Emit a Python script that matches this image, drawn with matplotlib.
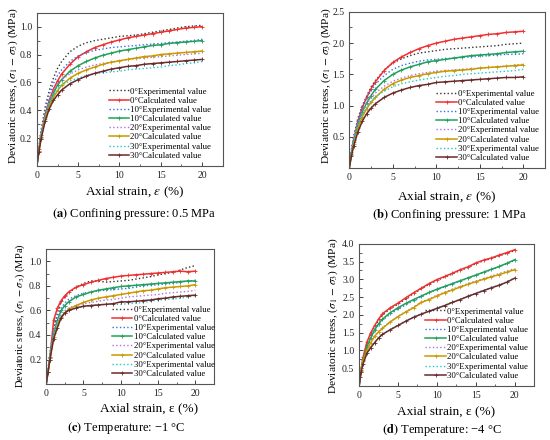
import matplotlib
matplotlib.use('Agg')
import matplotlib.pyplot as plt
import numpy as np
from matplotlib.ticker import AutoMinorLocator, MultipleLocator

plt.rcParams['font.family'] = ['Liberation Serif', 'DejaVu Serif']
plt.rcParams['mathtext.fontset'] = 'stix'

# ---- data ----
strain = [0, 0.25, 0.5, 1, 1.5, 2, 2.5, 3, 4, 5, 6, 7, 8, 9, 10,
          11, 12, 13, 14, 15, 16, 17, 18, 19, 20]
angles = ['0°', '10°', '20°', '30°']

# (a) confining pressure 0.5 MPa
a_exp = [
    [0, 0.13, 0.25, 0.42, 0.54, 0.63, 0.70, 0.75, 0.82, 0.86, 0.885, 0.90, 0.91, 0.92, 0.93, 0.935, 0.94, 0.95, 0.96, 0.97, 0.98, 0.99, 1.0, 1.005, 1.01],
    [0, 0.13, 0.24, 0.40, 0.51, 0.59, 0.65, 0.69, 0.75, 0.79, 0.815, 0.83, 0.84, 0.85, 0.855, 0.86, 0.865, 0.87, 0.875, 0.88, 0.885, 0.89, 0.895, 0.90, 0.91],
    [0, 0.12, 0.22, 0.37, 0.47, 0.54, 0.59, 0.62, 0.66, 0.69, 0.71, 0.725, 0.735, 0.745, 0.755, 0.765, 0.77, 0.775, 0.78, 0.785, 0.79, 0.795, 0.80, 0.805, 0.81],
    [0, 0.12, 0.22, 0.36, 0.45, 0.51, 0.55, 0.58, 0.61, 0.63, 0.65, 0.66, 0.67, 0.675, 0.68, 0.69, 0.695, 0.70, 0.705, 0.71, 0.72, 0.725, 0.735, 0.74, 0.75],
]
a_calc = [
    [0, 0.12, 0.22, 0.37, 0.47, 0.55, 0.61, 0.66, 0.73, 0.785, 0.82, 0.85, 0.87, 0.89, 0.905, 0.92, 0.93, 0.94, 0.95, 0.96, 0.97, 0.98, 0.99, 0.995, 1.0],
    [0, 0.11, 0.21, 0.35, 0.45, 0.52, 0.58, 0.62, 0.68, 0.72, 0.75, 0.775, 0.795, 0.81, 0.825, 0.835, 0.845, 0.855, 0.865, 0.87, 0.88, 0.885, 0.89, 0.895, 0.90],
    [0, 0.11, 0.20, 0.34, 0.43, 0.49, 0.54, 0.58, 0.63, 0.665, 0.69, 0.71, 0.73, 0.745, 0.755, 0.765, 0.775, 0.785, 0.79, 0.80, 0.805, 0.81, 0.815, 0.82, 0.825],
    [0, 0.10, 0.19, 0.32, 0.41, 0.47, 0.51, 0.545, 0.59, 0.62, 0.645, 0.665, 0.68, 0.695, 0.705, 0.715, 0.72, 0.73, 0.735, 0.74, 0.745, 0.75, 0.755, 0.76, 0.765],
]

# (b) confining pressure 1 MPa
b_exp = [
    [0, 0.30, 0.50, 0.80, 1.00, 1.15, 1.30, 1.40, 1.57, 1.68, 1.75, 1.80, 1.84, 1.86, 1.88, 1.90, 1.91, 1.92, 1.93, 1.94, 1.95, 1.96, 1.98, 1.99, 2.0],
    [0, 0.28, 0.48, 0.77, 0.97, 1.12, 1.24, 1.34, 1.48, 1.58, 1.64, 1.68, 1.71, 1.73, 1.74, 1.75, 1.76, 1.77, 1.78, 1.79, 1.80, 1.81, 1.82, 1.82, 1.83],
    [0, 0.26, 0.45, 0.72, 0.90, 1.03, 1.12, 1.20, 1.31, 1.39, 1.44, 1.48, 1.51, 1.53, 1.55, 1.56, 1.57, 1.58, 1.59, 1.60, 1.61, 1.62, 1.63, 1.65, 1.66],
    [0, 0.25, 0.43, 0.69, 0.86, 0.98, 1.07, 1.14, 1.23, 1.30, 1.35, 1.38, 1.41, 1.43, 1.45, 1.47, 1.48, 1.50, 1.51, 1.52, 1.53, 1.54, 1.55, 1.56, 1.58],
]
b_calc = [
    [0, 0.25, 0.45, 0.75, 0.97, 1.13, 1.27, 1.38, 1.56, 1.69, 1.78, 1.85, 1.91, 1.96, 2.0, 2.03, 2.06, 2.08, 2.10, 2.12, 2.14, 2.15, 2.17, 2.18, 2.19],
    [0, 0.23, 0.42, 0.70, 0.90, 1.04, 1.16, 1.26, 1.40, 1.50, 1.57, 1.62, 1.66, 1.70, 1.72, 1.74, 1.76, 1.78, 1.80, 1.81, 1.82, 1.83, 1.85, 1.86, 1.87],
    [0, 0.21, 0.38, 0.64, 0.82, 0.95, 1.05, 1.13, 1.26, 1.35, 1.41, 1.45, 1.48, 1.51, 1.53, 1.55, 1.56, 1.57, 1.58, 1.60, 1.61, 1.62, 1.63, 1.64, 1.65],
    [0, 0.19, 0.35, 0.58, 0.75, 0.87, 0.96, 1.03, 1.13, 1.20, 1.25, 1.29, 1.32, 1.34, 1.37, 1.38, 1.39, 1.40, 1.41, 1.42, 1.43, 1.44, 1.45, 1.45, 1.46],
]

# (c) temperature -1 °C
c_exp = [
    [0, 0.12, 0.25, 0.45, 0.58, 0.67, 0.71, 0.74, 0.79, 0.82, 0.84, 0.84, 0.83, 0.835, 0.84, 0.845, 0.855, 0.865, 0.875, 0.89, 0.90, 0.91, 0.93, 0.95, 0.965],
    [0, 0.12, 0.24, 0.43, 0.55, 0.62, 0.66, 0.69, 0.72, 0.74, 0.75, 0.76, 0.765, 0.77, 0.775, 0.78, 0.79, 0.80, 0.805, 0.81, 0.815, 0.82, 0.83, 0.84, 0.845],
    [0, 0.12, 0.23, 0.42, 0.52, 0.58, 0.60, 0.62, 0.64, 0.655, 0.665, 0.675, 0.685, 0.69, 0.70, 0.71, 0.715, 0.72, 0.725, 0.73, 0.74, 0.745, 0.75, 0.755, 0.765],
    [0, 0.12, 0.23, 0.40, 0.50, 0.56, 0.59, 0.60, 0.62, 0.63, 0.64, 0.645, 0.65, 0.65, 0.65, 0.655, 0.66, 0.665, 0.675, 0.685, 0.69, 0.695, 0.70, 0.71, 0.72],
]
c_calc = [
    [0, 0.10, 0.22, 0.52, 0.62, 0.68, 0.72, 0.75, 0.79, 0.81, 0.83, 0.845, 0.86, 0.87, 0.88, 0.885, 0.89, 0.895, 0.90, 0.905, 0.91, 0.915, 0.92, 0.915, 0.92],
    [0, 0.10, 0.21, 0.42, 0.52, 0.60, 0.64, 0.67, 0.71, 0.73, 0.75, 0.765, 0.775, 0.785, 0.795, 0.80, 0.805, 0.81, 0.815, 0.82, 0.825, 0.83, 0.835, 0.84, 0.84],
    [0, 0.10, 0.20, 0.38, 0.48, 0.55, 0.58, 0.61, 0.64, 0.665, 0.685, 0.70, 0.71, 0.72, 0.73, 0.74, 0.75, 0.76, 0.765, 0.775, 0.785, 0.79, 0.795, 0.80, 0.81],
    [0, 0.10, 0.20, 0.37, 0.46, 0.54, 0.58, 0.60, 0.62, 0.635, 0.64, 0.645, 0.65, 0.655, 0.67, 0.67, 0.675, 0.68, 0.685, 0.695, 0.70, 0.71, 0.715, 0.72, 0.725],
]

# (d) temperature -4 °C
d_exp = [
    [0, 0.45, 0.78, 1.20, 1.47, 1.67, 1.85, 2.00, 2.17, 2.30, 2.45, 2.60, 2.73, 2.86, 2.97, 3.06, 3.15, 3.25, 3.33, 3.44, 3.52, 3.58, 3.66, 3.73, 3.81],
    [0, 0.42, 0.72, 1.08, 1.34, 1.55, 1.72, 1.85, 2.02, 2.16, 2.28, 2.40, 2.51, 2.62, 2.71, 2.79, 2.87, 2.95, 3.03, 3.11, 3.19, 3.27, 3.35, 3.44, 3.53],
    [0, 0.48, 0.70, 1.00, 1.23, 1.41, 1.53, 1.63, 1.81, 1.96, 2.09, 2.22, 2.36, 2.45, 2.55, 2.64, 2.72, 2.80, 2.88, 2.95, 3.02, 3.09, 3.16, 3.23, 3.30],
    [0, 0.40, 0.62, 0.92, 1.09, 1.23, 1.36, 1.46, 1.59, 1.71, 1.83, 1.94, 2.03, 2.11, 2.19, 2.27, 2.36, 2.44, 2.53, 2.61, 2.69, 2.77, 2.84, 2.93, 3.04],
]
d_calc = [
    [0, 0.45, 0.80, 1.23, 1.50, 1.70, 1.88, 2.03, 2.20, 2.33, 2.48, 2.62, 2.75, 2.88, 2.99, 3.08, 3.17, 3.27, 3.35, 3.46, 3.54, 3.60, 3.68, 3.75, 3.83],
    [0, 0.42, 0.72, 1.10, 1.36, 1.58, 1.75, 1.88, 2.06, 2.20, 2.32, 2.43, 2.53, 2.63, 2.72, 2.80, 2.88, 2.96, 3.04, 3.12, 3.20, 3.28, 3.36, 3.45, 3.55],
    [0, 0.50, 0.70, 1.00, 1.22, 1.40, 1.52, 1.62, 1.80, 1.95, 2.08, 2.20, 2.35, 2.43, 2.53, 2.62, 2.70, 2.78, 2.86, 2.93, 3.00, 3.07, 3.13, 3.20, 3.27],
    [0, 0.40, 0.62, 0.92, 1.08, 1.22, 1.35, 1.45, 1.58, 1.70, 1.82, 1.93, 2.02, 2.10, 2.18, 2.26, 2.35, 2.43, 2.52, 2.60, 2.68, 2.76, 2.83, 2.92, 3.03],
]

exp_colors = ['#333333', '#2f6fe8', '#b070e8', '#1ec8d2']
calc_colors = ['#f03030', '#21a05c', '#c99a00', '#6b2a2a']

ylabel = r'Deviatoric stress, ($\sigma_1$ $-$ $\sigma_3$) (MPa)'


def draw_panel(ax, exp, calc, ymax, ystep, leg_x=1.0):
    for i, a in enumerate(angles):
        ax.plot(strain, exp[i], ls=':', lw=1.0, color=exp_colors[i],
                label=a + 'Experimental value')
        ax.plot(strain, calc[i], ls='-', lw=1.1, color=calc_colors[i],
                marker='+', ms=3, mew=0.6, label=a + 'Calculated value')
    ax.set_xlim(0, 22.5)
    ax.set_ylim(0, ymax)
    ax.xaxis.set_major_locator(MultipleLocator(5))
    ax.xaxis.set_minor_locator(MultipleLocator(2.5))
    ax.set_yticks(np.arange(ystep, ymax + 1e-9, ystep))
    ax.yaxis.set_minor_locator(AutoMinorLocator(2))
    ax.tick_params(which='both', direction='in', labelsize=7, colors='#222222')
    ax.tick_params(which='major', length=3, width=0.6)
    ax.tick_params(which='minor', length=1.8, width=0.5)
    for s in ax.spines.values():
        s.set_color('#555555')
        s.set_linewidth(0.8)
    ax.legend(loc='lower right', bbox_to_anchor=(leg_x, 0.0), frameon=False,
              fontsize=6.3, handlelength=2.3, handletextpad=0.15,
              labelspacing=0.12, borderaxespad=0.3)


fig = plt.figure(figsize=(5.5, 4.4), dpi=100)

axa = fig.add_axes([0.067, 0.623, 0.338, 0.348])
axb = fig.add_axes([0.635, 0.618, 0.356, 0.355])
axc = fig.add_axes([0.084, 0.127, 0.305, 0.307])
axd = fig.add_axes([0.653, 0.123, 0.318, 0.323])

draw_panel(axa, a_exp, a_calc, 1.1, 0.2, 0.97)
draw_panel(axb, b_exp, b_calc, 2.5, 0.5, 1.0)
draw_panel(axc, c_exp, c_calc, 1.1, 0.2, 1.04)
draw_panel(axd, d_exp, d_calc, 4.0, 0.5, 1.0)


def px(x, y):
    return x / 550, 1 - y / 440


# y labels
for (x, y), fs in [((13, 86), 8.2), ((326, 86), 8.2), ((20, 316), 7.6), ((333, 316), 8.2)]:
    fig.text(*px(x, y), ylabel, rotation=90, ha='center', va='center', fontsize=fs)

# x labels
fig.text(*px(135, 192), r'Axial strain, $\varepsilon$ (%)', ha='center', va='center', fontsize=9.5)
fig.text(*px(447, 197), r'Axial strain, $\varepsilon$ (%)', ha='center', va='center', fontsize=9.5)
fig.text(*px(149, 408), 'Axial strain, ε (%)', ha='center', va='center', fontsize=9.5)
fig.text(*px(446, 411), 'Axial strain, ε (%)', ha='center', va='center', fontsize=9.5)

# captions
captions = [
    ((134, 214), 'a', 'Confining pressure: 0.5 MPa'),
    ((450, 215), 'b', 'Confining pressure: 1 MPa'),
    ((126, 428), 'c', 'Temperature: \u22121 \u00b0C'),
    ((442, 430), 'd', 'Temperature: \u22124 \u00b0C'),
]
for (x, y), tag, txt in captions:
    fig.text(*px(x, y), r'$\mathbf{(' + tag + r')}$ ' + txt, ha='center', va='center',
             fontsize=9)

fig.savefig('out.png', dpi=100)
